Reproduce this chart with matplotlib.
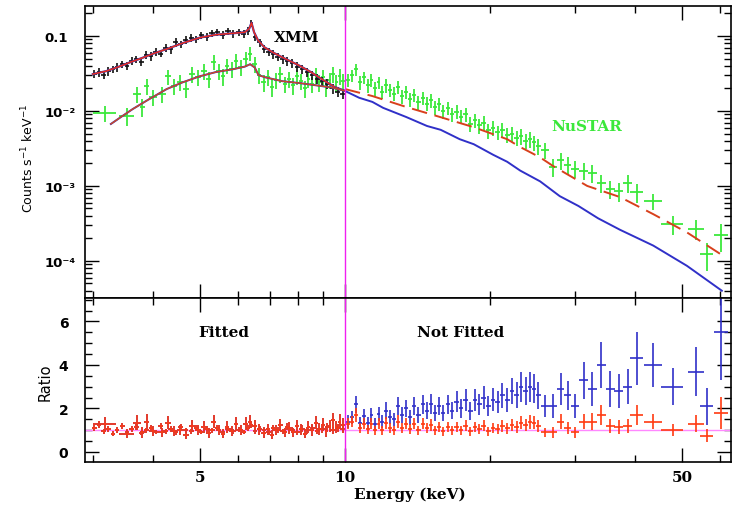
import numpy as np
import matplotlib
matplotlib.use("Agg")
import matplotlib.pyplot as plt
from matplotlib.ticker import FixedLocator, FixedFormatter, NullFormatter, MultipleLocator


# XMM spectrum (black), keV / counts s^-1 keV^-1
xmm_energy = [3.02, 3.09, 3.16, 3.23, 3.30, 3.37, 3.45, 3.53, 3.61, 3.69, 3.78, 3.87, 3.96,
              4.05, 4.15, 4.25, 4.35, 4.46, 4.57, 4.68, 4.80, 4.92, 5.04, 5.17, 5.30, 5.44,
              5.58, 5.72, 5.87, 6.02, 6.17, 6.30, 6.40, 6.52, 6.65, 6.80, 6.95, 7.10, 7.26,
              7.43, 7.60, 7.78, 7.96, 8.15, 8.35, 8.55, 8.76, 8.98, 9.20, 9.43, 9.67, 9.90]
xmm_flux = [0.031, 0.033, 0.030, 0.034, 0.036, 0.038, 0.042, 0.040, 0.047, 0.049, 0.045, 0.056, 0.054,
            0.062, 0.058, 0.070, 0.066, 0.082, 0.077, 0.088, 0.095, 0.090, 0.102, 0.098, 0.108, 0.112,
            0.104, 0.115, 0.108, 0.112, 0.106, 0.118, 0.148, 0.098, 0.082, 0.068, 0.062, 0.057, 0.053,
            0.049, 0.046, 0.043, 0.039, 0.036, 0.033, 0.030, 0.027, 0.025, 0.023, 0.020, 0.018, 0.017]
xmm_rel_err = [0.12, 0.13, 0.12, 0.14, 0.12, 0.13, 0.11, 0.12, 0.13, 0.12, 0.11, 0.12, 0.13,
               0.12, 0.11, 0.12, 0.12, 0.13, 0.11, 0.12, 0.12, 0.11, 0.12, 0.12, 0.11, 0.12,
               0.12, 0.11, 0.12, 0.11, 0.12, 0.12, 0.12, 0.13, 0.12, 0.13, 0.12, 0.13, 0.13,
               0.13, 0.14, 0.13, 0.14, 0.14, 0.15, 0.14, 0.15, 0.15, 0.16, 0.15, 0.16, 0.16]
xmm_ratio = [1.10, 1.25, 0.95, 1.05, 0.85, 1.00, 1.20, 0.90, 1.05, 1.15, 0.88, 1.00, 1.10,
             0.92, 1.20, 0.95, 1.05, 0.90, 1.15, 1.00, 0.95, 1.10, 0.92, 1.05, 1.00, 1.12,
             0.90, 1.08, 0.95, 1.02, 0.92, 1.10, 1.25, 0.95, 1.05, 1.00, 0.90, 1.10, 1.02,
             0.95, 1.15, 1.00, 0.92, 1.08, 1.00, 1.12, 0.95, 1.05, 1.15, 1.00, 1.10, 1.05]

# NuSTAR spectrum (green)
nustar_energy = [3.18, 3.53, 3.70, 3.80, 3.88, 4.00, 4.17, 4.30, 4.42, 4.55, 4.68, 4.82, 4.96,
                 5.10, 5.22, 5.35, 5.47, 5.58, 5.70, 5.82, 5.95, 6.08, 6.22, 6.36, 6.50, 6.64,
                 6.78, 6.92, 7.06, 7.20, 7.35, 7.50, 7.65, 7.80, 7.95, 8.10, 8.25, 8.40, 8.55,
                 8.70, 8.85, 9.00, 9.15, 9.30, 9.45, 9.60, 9.75, 9.90,
                 10.15, 10.35, 10.55, 10.75, 10.95, 11.15, 11.35, 11.55, 11.75, 11.95, 12.15,
                 12.40, 12.65, 12.90, 13.15, 13.40, 13.65, 13.90, 14.20, 14.50, 14.80, 15.10,
                 15.40, 15.70, 16.00, 16.35, 16.70, 17.05, 17.40, 17.80, 18.20, 18.60, 19.00,
                 19.40, 19.85, 20.30, 20.75, 21.20, 21.70, 22.20, 22.70, 23.20, 23.70, 24.20,
                 24.70, 25.20, 26.0, 27.0, 28.0, 29.0, 30.0, 31.3, 32.6, 34.0, 35.5, 37.0,
                 38.6, 40.3, 43.5, 47.8, 53.5, 56.3, 60.3]
nustar_flux = [0.0095, 0.0086, 0.0169, 0.0113, 0.0215, 0.0154, 0.0169, 0.029, 0.0215, 0.0244, 0.0196, 0.031, 0.0284,
               0.034, 0.0267, 0.045, 0.034, 0.029, 0.040, 0.036, 0.047, 0.038, 0.050, 0.058, 0.042, 0.030,
               0.024, 0.028, 0.021, 0.026, 0.031, 0.023, 0.027, 0.022, 0.029, 0.025, 0.020, 0.027, 0.023,
               0.030, 0.024, 0.028, 0.021, 0.026, 0.031, 0.024, 0.029, 0.025,
               0.026, 0.030, 0.036, 0.024, 0.028, 0.022, 0.026, 0.020, 0.024, 0.018, 0.022,
               0.019, 0.017, 0.021, 0.0158, 0.018, 0.0145, 0.0165, 0.0130, 0.0150, 0.0125, 0.0138,
               0.0112, 0.0124, 0.0100, 0.0110, 0.0090, 0.0098, 0.0084, 0.0090, 0.0068, 0.0075, 0.0064,
               0.0070, 0.0055, 0.0060, 0.0052, 0.0056, 0.0048, 0.0050, 0.0044, 0.0046, 0.0040, 0.0042,
               0.0038, 0.0034, 0.0030, 0.0018, 0.0022, 0.0019, 0.0017, 0.0016, 0.0015, 0.0011, 0.00092, 0.00086,
               0.0011, 0.00083, 0.00063, 0.00031, 0.00027, 0.000124, 0.00022]
nustar_rel_err = [0.24, 0.26, 0.25, 0.26, 0.24, 0.25, 0.25, 0.23, 0.25, 0.24, 0.25, 0.23, 0.24,
                  0.23, 0.25, 0.22, 0.24, 0.25, 0.23, 0.24, 0.22, 0.24, 0.22, 0.21, 0.23, 0.24,
                  0.25, 0.24, 0.26, 0.24, 0.23, 0.25, 0.24, 0.25, 0.23, 0.24, 0.26, 0.24, 0.25,
                  0.23, 0.25, 0.24, 0.26, 0.24, 0.23, 0.25, 0.24, 0.25,
                  0.20, 0.19, 0.18, 0.20, 0.19, 0.20, 0.19, 0.20, 0.19, 0.21, 0.20,
                  0.20, 0.21, 0.20, 0.21, 0.20, 0.21, 0.20, 0.21, 0.20, 0.21, 0.21,
                  0.21, 0.20, 0.21, 0.20, 0.21, 0.21, 0.21, 0.21, 0.22, 0.21, 0.22,
                  0.21, 0.22, 0.22, 0.22, 0.22, 0.23, 0.22, 0.23, 0.23, 0.23, 0.23,
                  0.23, 0.24, 0.24, 0.26, 0.25, 0.26, 0.26, 0.26, 0.27, 0.26, 0.28, 0.28,
                  0.27, 0.28, 0.25, 0.28, 0.30, 0.40, 0.40]
nustar_ratio_blue = [1.30, 0.85, 1.35, 0.90, 1.40, 0.95, 0.90, 1.35, 0.95, 1.00, 0.80, 1.20, 1.00,
                     1.15, 0.88, 1.40, 1.00, 0.85, 1.15, 0.98, 1.30, 1.00, 1.30, 1.40, 1.20, 1.05,
                     0.88, 1.05, 0.80, 1.00, 1.25, 0.90, 1.10, 0.90, 1.20, 1.05, 0.85, 1.15, 1.00,
                     1.35, 1.05, 1.25, 0.95, 1.20, 1.45, 1.15, 1.40, 1.25,
                     1.40, 1.60, 2.20, 1.35, 1.65, 1.35, 1.70, 1.30, 1.75, 1.40, 1.90,
                     1.60, 1.50, 2.10, 1.70, 2.00, 1.60, 2.10, 1.70, 2.20, 1.90, 2.20,
                     1.80, 2.10, 1.80, 2.20, 1.90, 2.30, 2.00, 2.40, 1.90, 2.40, 2.20,
                     2.50, 2.10, 2.40, 2.30, 2.60, 2.40, 2.80, 2.60, 3.00, 2.80, 3.00,
                     2.90, 2.60, 2.10, 2.10, 2.90, 2.60, 2.10, 3.30, 2.90, 4.00, 2.90, 2.80,
                     3.00, 4.30, 4.00, 3.00, 3.70, 2.10, 5.50]
nustar_ratio_red = [1.30, 0.85, 1.35, 0.90, 1.40, 0.95, 0.90, 1.35, 0.95, 1.00, 0.80, 1.20, 1.00,
                    1.15, 0.88, 1.40, 1.00, 0.85, 1.15, 0.98, 1.30, 1.00, 1.30, 1.40, 1.20, 1.05,
                    0.88, 1.05, 0.80, 1.00, 1.25, 0.90, 1.10, 0.90, 1.20, 1.05, 0.85, 1.15, 1.00,
                    1.35, 1.05, 1.25, 0.95, 1.20, 1.45, 1.15, 1.40, 1.25,
                    1.30, 1.40, 1.70, 1.10, 1.30, 1.05, 1.30, 1.00, 1.30, 1.00, 1.35,
                    1.10, 1.00, 1.40, 1.10, 1.30, 1.05, 1.30, 1.00, 1.30, 1.10, 1.25,
                    1.00, 1.15, 0.95, 1.15, 1.00, 1.15, 1.00, 1.20, 0.95, 1.15, 1.05,
                    1.20, 0.95, 1.10, 1.05, 1.20, 1.10, 1.25, 1.15, 1.35, 1.25, 1.40,
                    1.35, 1.20, 0.90, 0.90, 1.40, 1.10, 0.90, 1.40, 1.40, 1.70, 1.20, 1.15,
                    1.20, 1.70, 1.40, 1.00, 1.30, 0.75, 1.80]

# XMM model (drawn blue, red on top)
xmm_model_energy = [3.0, 3.2, 3.4, 3.6, 3.8, 4.0, 4.3, 4.6, 5.0, 5.4, 5.8, 6.2, 6.33, 6.40,
                    6.48, 6.6, 6.8, 7.1, 7.5, 8.0, 8.5, 9.0, 9.5, 10.0]
xmm_model_flux = [0.031, 0.034, 0.039, 0.045, 0.051, 0.058, 0.068, 0.080, 0.095, 0.104, 0.108, 0.112,
                  0.125, 0.150, 0.112, 0.088, 0.071, 0.060, 0.050, 0.041, 0.033, 0.026, 0.021, 0.0185]

# NuSTAR models
blue_model_energy = [3.27, 3.45, 3.63, 3.90, 4.27, 4.60, 5.00, 5.40, 5.86, 6.20, 6.36, 6.50, 6.62,
                     6.85, 7.40, 8.06, 8.70, 9.40, 10.0, 10.7, 11.4, 12.0, 13.4, 14.8, 15.8, 17.3,
                     18.5, 20.3, 21.7, 23.1, 25.4, 27.9, 30.5, 33.5, 37.2, 43.6, 51.2, 60.5]
blue_model_flux = [0.0067, 0.0085, 0.0106, 0.0140, 0.0196, 0.024, 0.029, 0.033, 0.036, 0.039, 0.042,
                   0.038, 0.030, 0.028, 0.025, 0.0235, 0.022, 0.0205, 0.0185, 0.0150, 0.0132, 0.0110,
                   0.0083, 0.0063, 0.0056, 0.0042, 0.0036, 0.0026, 0.0021, 0.0016, 0.00115, 0.00073,
                   0.00054, 0.00037, 0.00026, 0.00016, 0.000086, 0.000040]
red_model_energy = [10.0, 11.4, 13.4, 15.75, 18.45, 21.7, 23.1, 25.4, 27.0, 31.8, 37.2, 43.6,
                    51.2, 60.5]
red_model_flux = [0.0196, 0.0158, 0.0113, 0.0083, 0.0061, 0.0042, 0.0033, 0.0024, 0.00185,
                  0.0010, 0.00071, 0.00042, 0.00024, 0.000120]

BLACK = "#111111"
GREEN = "#3be83b"
BLUE = "#3030c8"
RED = "#e8301c"
RATIO_RED = "#ff3a10"
MAGENTA = "#f020f0"
SERIF = "DejaVu Serif"
SANS = "DejaVu Sans"


def half_widths(energy):
    return np.gradient(np.asarray(energy, dtype=float)) / 2


def style_axis(ax):
    ax.set_xscale("log")
    ax.set_xlim(2.89, 63.2)
    ax.xaxis.set_major_locator(FixedLocator([5, 10, 50]))
    ax.xaxis.set_minor_locator(FixedLocator([3, 4, 6, 7, 8, 9, 20, 30, 40, 60]))
    ax.tick_params(which="both", direction="in", top=True, right=True, width=1.0)
    ax.tick_params(which="major", length=10)
    ax.tick_params(which="minor", length=5)
    for spine in ax.spines.values():
        spine.set_linewidth(1.2)


def draw_spectrum(ax):
    e = np.asarray(nustar_energy)
    f = np.asarray(nustar_flux)
    ax.errorbar(e, f, xerr=half_widths(e), yerr=f * np.asarray(nustar_rel_err),
                fmt="none", ecolor=GREEN, elinewidth=1.3)

    e = np.asarray(xmm_energy)
    f = np.asarray(xmm_flux)
    ax.errorbar(e, f, xerr=half_widths(e), yerr=f * np.asarray(xmm_rel_err),
                fmt="none", ecolor=BLACK, elinewidth=1.2)

    ax.plot(xmm_model_energy, xmm_model_flux, color=BLUE, lw=1.6)
    ax.plot(xmm_model_energy, xmm_model_flux, color=RED, lw=1.1)

    low = [i for i, x in enumerate(blue_model_energy) if x <= 10]
    ax.plot(blue_model_energy, blue_model_flux, color=BLUE, lw=1.4)
    ax.plot([blue_model_energy[i] for i in low], [blue_model_flux[i] for i in low],
            color="#d04a20", lw=1.0)
    ax.plot(red_model_energy, red_model_flux, color="#d8401c", lw=1.4, dashes=(8, 4))

    ax.axvline(10, color=MAGENTA, lw=1.0)

    ax.set_yscale("log")
    ax.set_ylim(3.2e-5, 0.251)
    ax.yaxis.set_major_locator(FixedLocator([1e-4, 1e-3, 1e-2, 1e-1]))
    ax.yaxis.set_major_formatter(FixedFormatter(["10⁻⁴", "10⁻³", "10⁻²", "0.1"]))
    ax.yaxis.set_minor_locator(FixedLocator(
        [m * 10.0 ** d for d in range(-5, 0) for m in range(2, 10)]))
    ax.yaxis.set_minor_formatter(NullFormatter())
    ax.xaxis.set_major_formatter(NullFormatter())
    ax.xaxis.set_minor_formatter(NullFormatter())
    ax.tick_params(axis="y", pad=29)
    for label in ax.get_yticklabels():
        label.set_horizontalalignment("left")
        label.set_fontfamily(SANS)
        label.set_fontweight("bold")
        label.set_fontsize(9.5)

    ax.text(7.95, 0.097, "XMM", fontfamily=SERIF, fontweight="bold", fontsize=11,
            ha="center", va="center")
    ax.text(31.8, 0.0063, "NuSTAR", fontfamily=SERIF, fontweight="bold", fontsize=11,
            color=GREEN, ha="center", va="center")


def draw_ratio(ax):
    ax.axhline(1.0, color="#ff88ff", lw=1.0)

    e = np.asarray(xmm_energy)
    r = np.asarray(xmm_ratio)
    for color in (BLUE, RATIO_RED):
        ax.errorbar(e, r, xerr=half_widths(e), yerr=r * np.asarray(xmm_rel_err),
                    fmt="none", ecolor=color, elinewidth=1.2)

    e = np.asarray(nustar_energy)
    rel = np.asarray(nustar_rel_err)
    rb = np.asarray(nustar_ratio_blue)
    rr = np.asarray(nustar_ratio_red)
    ax.errorbar(e, rb, xerr=half_widths(e), yerr=rb * rel,
                fmt="none", ecolor=BLUE, elinewidth=1.2)
    ax.errorbar(e, rr, xerr=half_widths(e), yerr=rr * rel,
                fmt="none", ecolor=RATIO_RED, elinewidth=1.2)

    ax.axvline(10, color=MAGENTA, lw=1.0)

    ax.set_ylim(-0.46, 7.08)
    ax.yaxis.set_major_locator(FixedLocator([0, 2, 4, 6]))
    ax.yaxis.set_minor_locator(MultipleLocator(0.5))
    ax.xaxis.set_major_formatter(FixedFormatter(["5", "10", "50"]))
    ax.xaxis.set_minor_formatter(NullFormatter())
    ax.tick_params(axis="y", pad=12)
    ax.tick_params(axis="x", pad=6)
    for label in ax.get_yticklabels():
        label.set_fontfamily(SANS)
        label.set_fontweight("bold")
        label.set_fontsize(10)
    for label in ax.get_xticklabels():
        label.set_fontfamily(SERIF)
        label.set_fontweight("bold")
        label.set_fontsize(11)

    ax.text(5.61, 5.52, "Fitted", fontfamily=SERIF, fontweight="bold", fontsize=11,
            ha="center", va="center")
    ax.text(17.4, 5.52, "Not Fitted", fontfamily=SERIF, fontweight="bold", fontsize=11,
            ha="center", va="center")


def main():
    width, height = 732, 506
    fig = plt.figure(figsize=(width / 100, height / 100), dpi=100)
    left = 85 / width
    ax_w = (731 - 85) / width
    ax_top = fig.add_axes([left, 1 - 299 / height, ax_w, (299 - 7) / height])
    ax_bot = fig.add_axes([left, 1 - 463 / height, ax_w, (463 - 299) / height])

    style_axis(ax_top)
    style_axis(ax_bot)
    draw_spectrum(ax_top)
    draw_ratio(ax_bot)

    fig.text(28 / width, 1 - 158 / height, "Counts s$^{-1}$ keV$^{-1}$", rotation=90,
             fontfamily=SANS, fontsize=9, ha="center", va="center")
    fig.text(45 / width, 1 - 382 / height, "Ratio", rotation=90,
             fontfamily=SANS, fontsize=10.5, ha="center", va="center")
    fig.text(410 / width, 1 - 495 / height, "Energy (keV)", fontfamily=SERIF,
             fontweight="bold", fontsize=11, ha="center", va="center")

    fig.savefig("out.png", dpi=100)
    plt.close(fig)


if __name__ == "__main__":
    main()
